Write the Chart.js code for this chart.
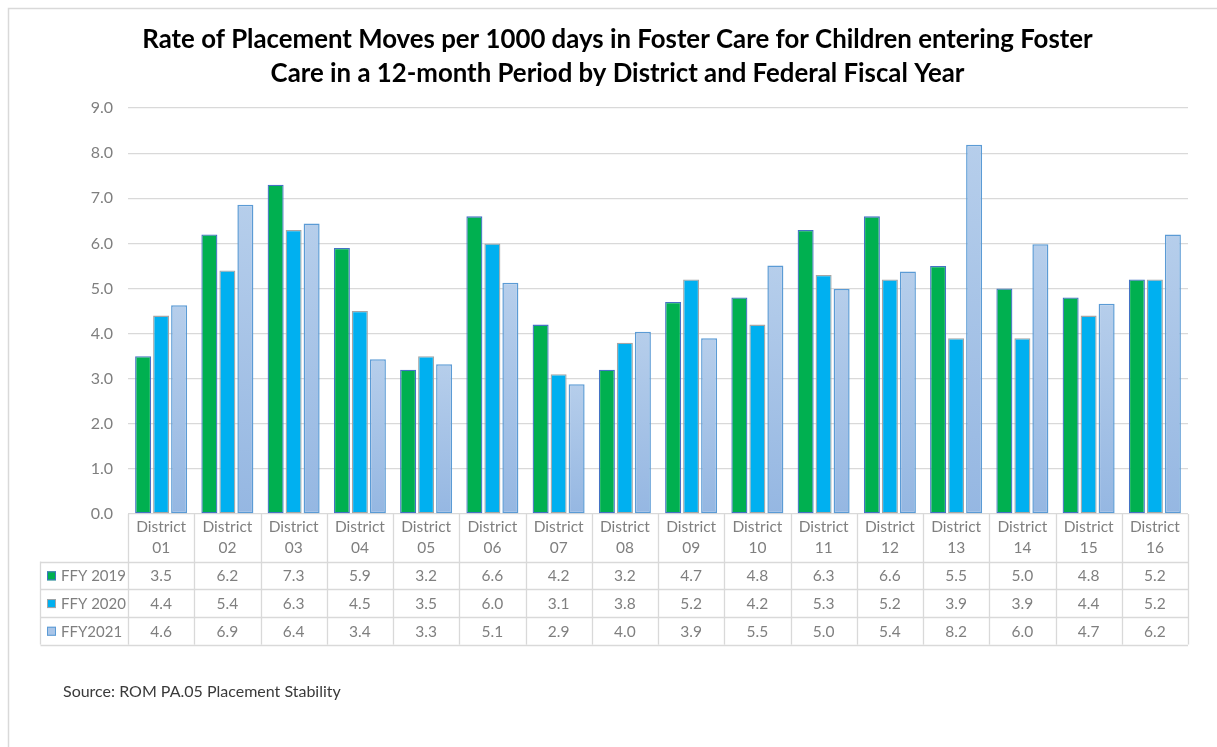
<!DOCTYPE html>
<html>
<head>
<meta charset="utf-8">
<script src="https://cdn.jsdelivr.net/npm/chart.js@4.4.1/dist/chart.umd.min.js"></script>
<style>
  body { margin: 0; background: #fff; }
  #wrap { position: relative; width: 1217px; height: 747px; }
</style>
</head>
<body>
<div id="wrap"><canvas id="myChart"></canvas></div>
<script>
const districts = ['01', '02', '03', '04', '05', '06', '07', '08', '09', '10', '11', '12', '13', '14', '15', '16'];
const ffy2019 = [3.5, 6.2, 7.3, 5.9, 3.2, 6.6, 4.2, 3.2, 4.7, 4.8, 6.3, 6.6, 5.5, 5.0, 4.8, 5.2];
const ffy2020 = [4.4, 5.4, 6.3, 4.5, 3.5, 6.0, 3.1, 3.8, 5.2, 4.2, 5.3, 5.2, 3.9, 3.9, 4.4, 5.2];
const ffy2021 = [4.63, 6.86, 6.44, 3.43, 3.32, 5.13, 2.88, 4.04, 3.90, 5.51, 4.99, 5.38, 8.19, 5.98, 4.66, 6.20];
const seriesNames = ['FFY 2019', 'FFY 2020', 'FFY2021'];
const yMax = 9;
const yStep = 1;

const grey = '#7f7f7f';
const lineGrey = '#d9d9d9';
const font = 'Lato';

const ctx = document.getElementById('myChart');

// light blue bars have a soft top-to-bottom gradient
const lightFill = (c) => {
  const chart = c.chart;
  if (!chart.chartArea || c.raw == null) return '#A9C5E8';
  const y = chart.scales.y;
  const top = y.getPixelForValue(c.raw);
  const bot = y.getPixelForValue(0);
  const g = chart.ctx.createLinearGradient(0, top, 0, bot);
  g.addColorStop(0, '#B6CEEB');
  g.addColorStop(1, '#95B7E2');
  return g;
};

const keyStyles = [
  { fill: '#00B050', stroke: '#4472C4' },
  { fill: '#00B0F0', stroke: '#A5A5A5' },
  { fill: '#A9C5E8', stroke: '#5B9BD5' },
];

const tablePlugin = {
  id: 'dataTable',
  afterDraw(chart) {
    const c = chart.ctx;
    const a = chart.chartArea;
    const n = districts.length;
    const w = (a.right - a.left) / n;
    const headerBottom = a.bottom + 47.5;
    const rowH = 27.7;
    const tableLeft = 40.5;
    const rows = [ffy2019, ffy2020, ffy2021];

    c.save();
    // outer frame
    c.strokeStyle = lineGrey;
    c.lineWidth = 1.5;
    c.beginPath();
    c.moveTo(8.5, 747);
    c.lineTo(8.5, 8.5);
    c.lineTo(1217, 8.5);
    c.stroke();

    // table grid
    c.lineWidth = 1.3;
    c.beginPath();
    for (let r = 0; r <= 3; r++) {
      const yy = Math.round(headerBottom + r * rowH) + 0.5;
      c.moveTo(tableLeft, yy);
      c.lineTo(a.right, yy);
    }
    c.moveTo(tableLeft, headerBottom);
    c.lineTo(tableLeft, headerBottom + 3 * rowH);
    for (let i = 0; i <= n; i++) {
      const xx = Math.round(a.left + i * w) + 0.5;
      c.moveTo(xx, a.bottom);
      c.lineTo(xx, headerBottom + 3 * rowH);
    }
    c.stroke();

    // values and legend keys
    c.textBaseline = 'middle';
    rows.forEach((vals, r) => {
      const yc = headerBottom + r * rowH + rowH / 2 + 1;
      const k = keyStyles[r];
      c.fillStyle = k.fill;
      c.fillRect(47, yc - 5, 9, 9);
      c.strokeStyle = k.stroke;
      c.lineWidth = 1;
      c.strokeRect(47.5, yc - 4.5, 8, 8);
      c.fillStyle = grey;
      c.textAlign = 'left';
      c.font = '15px ' + font;
      c.fillText(seriesNames[r], 61, yc);
      c.textAlign = 'center';
      c.font = '15.5px ' + font;
      vals.forEach((v, i) => {
        c.fillText(v.toFixed(1), a.left + (i + 0.5) * w, yc);
      });
    });

    // source note
    c.textAlign = 'left';
    c.font = '16px ' + font;
    c.fillStyle = '#3a3a3a';
    c.fillText('Source: ROM PA.05 Placement Stability', 63, 692);
    c.restore();
  }
};

const myChart = new Chart(ctx, {
  type: 'bar',
  data: {
    labels: districts.map(d => ['District', d]),
    datasets: [
      {
        label: seriesNames[0],
        data: ffy2019,
        backgroundColor: '#00B050',
        borderColor: '#4472C4',
        borderWidth: 1.3,
        borderSkipped: false
      },
      {
        label: seriesNames[1],
        data: ffy2020,
        backgroundColor: '#00B0F0',
        borderColor: '#A5A5A5',
        borderWidth: 1.3,
        borderSkipped: false
      },
      {
        label: seriesNames[2],
        data: ffy2021,
        backgroundColor: lightFill,
        borderColor: '#5B9BD5',
        borderWidth: 1.5,
        borderSkipped: false
      },
    ],
  },
  options: {
    responsive: true,
    maintainAspectRatio: false,
    animation: false,
    datasets: {
      bar: { categoryPercentage: 0.815, barPercentage: 0.89 }
    },
    layout: { padding: { left: 18, right: 0, top: 0, bottom: 0 } },
    plugins: {
      legend: { display: false },
      tooltip: { enabled: false },
      title: {
        display: true,
        text: [
          'Rate of Placement Moves per 1000 days in Foster Care for Children entering Foster',
          'Care in a 12-month Period by District and Federal Fiscal Year'
        ],
        color: '#000',
        font: { family: font, size: 25.8, weight: 'bold', lineHeight: 1.34 },
        padding: { top: 22, bottom: 17 }
      }
    },
    scales: {
      x: {
        grid: { display: false, drawTicks: false },
        border: { display: false },
        ticks: {
          color: grey,
          font: { family: font, size: 15.5, lineHeight: 1.33 },
          padding: 3,
          maxRotation: 0,
          autoSkip: false
        },
        afterFit(scale) { scale.height = 233; }
      },
      y: {
        min: 0,
        max: yMax,
        grid: { color: lineGrey, lineWidth: 1.3, drawTicks: false },
        border: { display: false },
        ticks: {
          stepSize: yStep,
          color: grey,
          font: { family: font, size: 16 },
          padding: 15,
          callback: v => v.toFixed(1)
        },
        afterFit(scale) { scale.width = 110; }
      },
      // empty right margin beside the plot
      yRight: {
        position: 'right',
        grid: { display: false },
        border: { display: false },
        ticks: { display: false },
        afterFit(scale) { scale.width = 29; }
      }
    }
  },
  plugins: [tablePlugin]
});
</script>
</body>
</html>
